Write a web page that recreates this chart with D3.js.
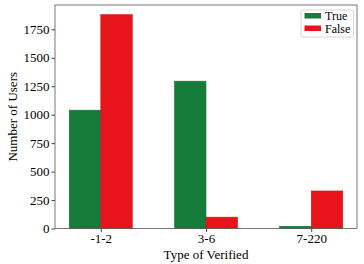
<!DOCTYPE html>
<html>
<head>
<meta charset="utf-8">
<script src="https://cdn.jsdelivr.net/npm/d3@7"></script>
<style>
  body { margin: 0; background: #fff; }
  text { font-family: "Liberation Serif", "DejaVu Serif", serif; fill: #000; }
</style>
</head>
<body>
<div id="chart-area"></div>
<script>
// Data
const categories = ['-1-2', '3-6', '7-220'];
const seriesNames = ['True', 'False'];
const trueValues = [1040, 1295, 20];
const falseValues = [1880, 100, 330];
const yTicks = [0, 250, 500, 750, 1000, 1250, 1500, 1750];

const colors = { True: '#157c3a', False: '#e8141c' };

// Margins
const margin = { left: 55, right: 7, top: 5, bottom: 35.5 };
const width = 364 - margin.left - margin.right;
const height = 264 - margin.top - margin.bottom;

const svg = d3.select('#chart-area')
    .append('svg')
    .attr('width', 364)
    .attr('height', 264);

const g = svg.append('g')
    .attr('transform', 'translate(' + margin.left + ', ' + margin.top + ')');

// Scales
const x = d3.scaleLinear()
    .domain([-0.435, 2.435])
    .range([0, width]);

const y = d3.scaleLinear()
    .domain([0, 1964])
    .range([height, 0]);

const barW = 0.3;

// Bars
const rows = categories.map((c, i) => ({ cat: c, i: i, True: trueValues[i], False: falseValues[i] }));

seriesNames.forEach((s, k) => {
    g.selectAll('.bar-' + s)
        .data(rows)
        .enter()
        .append('rect')
        .attr('x', (d) => x(d.i - barW + k * barW))
        .attr('width', x(barW) - x(0))
        .attr('y', (d) => y(d[s]))
        .attr('height', (d) => height - y(d[s]))
        .attr('fill', colors[s])
        .attr('stroke', d3.color(colors[s]).darker(0.4))
        .attr('stroke-width', 0.5);
});

const fontSize = '13px';

// Y Axis
const yAxisCall = d3.axisLeft(y)
    .tickValues(yTicks)
    .tickFormat(d3.format('d'))
    .tickSize(3.5)
    .tickPadding(2);
const yAxis = g.append('g').call(yAxisCall);
yAxis.select('.domain').remove();
yAxis.attr('font-size', null).attr('font-family', null);
yAxis.selectAll('text').style('font-size', fontSize);
yAxis.selectAll('line').attr('stroke', '#444');

// X Axis
const xAxisCall = d3.axisBottom(x)
    .tickValues([0, 1, 2])
    .tickFormat((d) => categories[d])
    .tickSize(3.5)
    .tickPadding(2);
const xAxis = g.append('g')
    .attr('transform', 'translate(0, ' + height + ')')
    .call(xAxisCall);
xAxis.select('.domain').remove();
xAxis.attr('font-size', null).attr('font-family', null);
xAxis.selectAll('text').style('font-size', fontSize);
xAxis.selectAll('line').attr('stroke', '#444');

// Frame
g.append('rect')
    .attr('x', 0)
    .attr('y', 0)
    .attr('width', width)
    .attr('height', height)
    .attr('fill', 'none')
    .attr('stroke', '#555')
    .attr('stroke-width', 0.8);

// Labels
g.append('text')
    .attr('x', width / 2)
    .attr('y', height + 30)
    .style('font-size', fontSize)
    .attr('text-anchor', 'middle')
    .text('Type of Verified');

g.append('text')
    .attr('transform', 'rotate(-90)')
    .attr('x', -(height / 2))
    .attr('y', -38.5)
    .style('font-size', fontSize)
    .attr('text-anchor', 'middle')
    .text('Number of Users');

// Legend
const legend = g.append('g')
    .attr('transform', 'translate(' + (width - 56) + ', 5)');
legend.append('rect')
    .attr('width', 52.5)
    .attr('height', 27)
    .attr('rx', 2)
    .attr('fill', '#fff')
    .attr('stroke', '#ccc')
    .attr('stroke-width', 0.8);
seriesNames.forEach((s, k) => {
    legend.append('rect')
        .attr('x', 3.5)
        .attr('y', 3 + k * 12.5)
        .attr('width', 16.5)
        .attr('height', 5.5)
        .attr('fill', colors[s]);
    legend.append('text')
        .attr('x', 24)
        .attr('y', 10 + k * 12.5)
        .style('font-size', '12px')
        .text(s);
});
</script>
</body>
</html>
